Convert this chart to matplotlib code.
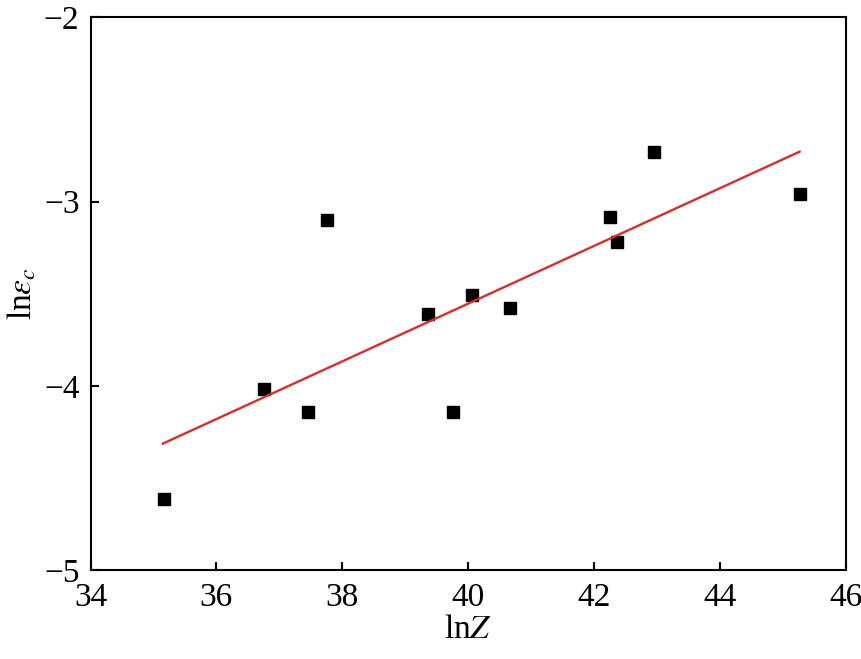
import matplotlib
matplotlib.use("Agg")
import matplotlib.pyplot as plt
import numpy as np

plt.rcParams['font.family'] = ['Liberation Serif', 'DejaVu Serif']
plt.rcParams['mathtext.fontset'] = 'stix'

lnZ = [35.17, 36.76, 37.46, 37.76, 39.37, 39.76, 40.06, 40.67, 42.26, 42.36, 42.96, 45.28]
ln_eps = [-4.61, -4.017, -4.138, -3.099, -3.609, -4.138, -3.506, -3.575, -3.081, -3.217, -2.732, -2.956]
fit_x = [35.15, 45.27]
fit_y = [-4.312, -2.729]

xticks = [34, 36, 38, 40, 42, 44, 46]
yticks = [-5, -4, -3, -2]

fig = plt.figure(figsize=(8.62, 6.59), dpi=100)
ax = fig.add_axes([0.105, 0.1343, 0.8759, 0.8395])

ax.plot(lnZ, ln_eps, linestyle='none', marker='s', markersize=8.5,
        color='black', zorder=2)
ax.plot(fit_x, fit_y, color='#dc2b2b', linewidth=1.7, zorder=3)

ax.set_xlim(34, 46)
ax.set_ylim(-5, -2)
ax.set_xticks(xticks)
ax.set_yticks(yticks)
ax.set_xticklabels([str(t) for t in xticks])
ax.set_yticklabels(['\u2212' + str(abs(t)) for t in yticks])
ax.tick_params(direction='in', length=6, width=1.5, labelsize=24,
               top=False, right=False)
ax.tick_params(axis='x', pad=9)
ax.tick_params(axis='y', pad=8)
for s in ax.spines.values():
    s.set_linewidth(1.5)

ax.set_xlabel(r'ln$Z$', fontsize=24, labelpad=1)
ax.set_ylabel(r'ln$\varepsilon_c$', fontsize=24, labelpad=4)

fig.savefig('out.png', dpi=100)
